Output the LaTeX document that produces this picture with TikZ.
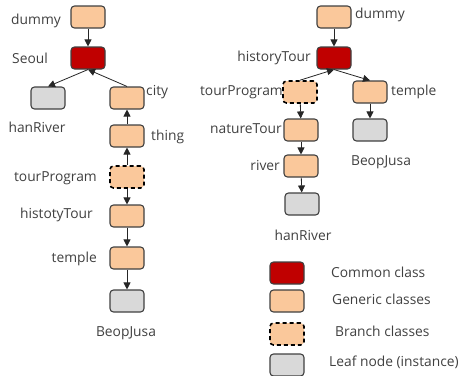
\documentclass[tikz,border=0pt]{standalone}
\usepackage{fontspec}
\setmainfont{Open Sans}
\usetikzlibrary{arrows.meta,positioning}
\definecolor{peach}{RGB}{250,200,155}
\definecolor{darkred}{RGB}{192,0,0}
\definecolor{leafgray}{RGB}{217,217,217}
\definecolor{txtgray}{RGB}{64,64,64}
\tikzset{
  cls/.style={draw=black!75,line width=1.1pt,rounded corners=3.5pt,minimum width=34pt,minimum height=22pt,inner sep=0pt},
  common/.style={cls,fill=darkred},
  generic/.style={cls,fill=peach},
  branch/.style={cls,fill=peach,draw=black,dashed,dash pattern=on 4pt off 3pt,line width=1.6pt},
  leaf/.style={cls,fill=leafgray},
  lbl/.style={text=txtgray,font=\fontsize{13.8}{15}\selectfont,inner sep=0pt},
  link/.style={-{Triangle[width=7pt,length=7pt]},line width=0.8pt,black!85}
}
\begin{document}
\begin{tikzpicture}[x=1pt,y=-1pt]
  \useasboundingbox (0,0) rectangle (463,375);

  % Left tree - Seoul as common class
  \node[generic] (ldummy) at (88,17) {};
  \node[common]  (lseoul) at (88,58) {};
  \node[leaf]    (lhan)   at (48,98) {};
  \node[generic] (lcity)  at (127,98) {};
  \node[generic] (lthing) at (127,136) {};
  \node[branch]  (ltour)  at (127,177) {};
  \node[generic] (lhist)  at (127,216) {};
  \node[generic] (ltemp)  at (127,258) {};
  \node[leaf]    (lbeop)  at (127,301) {};

  \node[lbl,anchor=east] at (61,21) {dummy};
  \node[lbl,anchor=east] at (48,58) {Seoul};
  \node[lbl] at (37,127) {hanRiver};
  \node[lbl,anchor=west] at (146,92) {city};
  \node[lbl,anchor=west] at (151,137) {thing};
  \node[lbl,anchor=east] at (97,178) {tourProgram};
  \node[lbl,anchor=east] at (93,215) {histotyTour};
  \node[lbl,anchor=east] at (97,259) {temple};
  \node[lbl] at (126,333) {BeopJusa};

  \draw[link] (ldummy) -- (lseoul);
  \draw[link] (lseoul.south) -- (lhan.north);
  \draw[link] (lcity.north) -- (lseoul.south);
  \draw[link] (lthing) -- (lcity);
  \draw[link] (ltour) -- (lthing);
  \draw[link] (ltour) -- (lhist);
  \draw[link] (lhist) -- (ltemp);
  \draw[link] (ltemp) -- (lbeop);

  % Right tree - historyTour as common class
  \node[generic] (rdummy) at (334,17) {};
  \node[common]  (rhist)  at (334,58) {};
  \node[branch]  (rtour)  at (300,92) {};
  \node[generic] (rtemp)  at (370,92) {};
  \node[generic] (rnat)   at (301,130) {};
  \node[leaf]    (rbeop)  at (370,130) {};
  \node[generic] (rriver) at (301,166) {};
  \node[leaf]    (rhan)   at (302,204) {};

  \node[lbl,anchor=west] at (355,15) {dummy};
  \node[lbl,anchor=east] at (311,58) {historyTour};
  \node[lbl,anchor=east] at (283,92) {tourProgram};
  \node[lbl,anchor=west] at (391,92) {temple};
  \node[lbl,anchor=east] at (282,129) {natureTour};
  \node[lbl] at (381,162) {BeopJusa};
  \node[lbl,anchor=east] at (280,165) {river};
  \node[lbl] at (303,235) {hanRiver};

  \draw[link] (rdummy) -- (rhist);
  \draw[link] (rhist.south) -- (rtemp.north);
  \draw[link] (rtour.north) -- (rhist.south);
  \draw[link] (rtour) -- (rnat);
  \draw[link] (rnat) -- (rriver);
  \draw[link] (rriver) -- (rhan);
  \draw[link] (rtemp) -- (rbeop);

  % Legend
  \node[common]  (kcommon)  at (287,273) {};
  \node[generic] (kgeneric) at (287,301) {};
  \node[branch]  (kbranch)  at (287,334) {};
  \node[leaf]    (kleaf)    at (287,365) {};
  \node[lbl,anchor=west] at (331,272) {Common class};
  \node[lbl,anchor=west] at (332,299) {Generic classes};
  \node[lbl,anchor=west] at (335,331) {Branch classes};
  \node[lbl,anchor=west] at (329,362) {Leaf node (instance)};
\end{tikzpicture}
\end{document}
